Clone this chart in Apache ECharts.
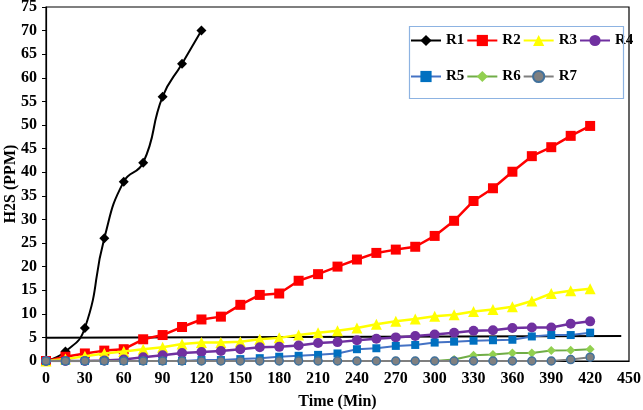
<!DOCTYPE html>
<html>
<head>
<meta charset="utf-8">
<script src="https://cdn.jsdelivr.net/npm/echarts@6/dist/echarts.min.js"></script>
<style>
html,body{margin:0;padding:0;background:#fff;}
#chart{width:643px;height:410px;}
</style>
</head>
<body>
<div id="chart"></div>
<script>
// Time (min) at each sample
var times = [0,15,30,45,60,75,90,105,120,135,150,165,180,195,210,225,240,255,270,285,300,315,330,345,360,375,390,405,420];
var seriesNames = ['R1','R2','R3','R4','R5','R6','R7'];
var R1 = [0,2,7,26,38,42,56,63,70];
var R2 = [0,0.9,1.6,2.2,2.5,4.6,5.5,7.2,8.8,9.4,11.9,14.0,14.3,17.0,18.4,20.0,21.5,22.9,23.6,24.2,26.5,29.7,33.9,36.6,40.1,43.4,45.3,47.7,49.8];
var R3 = [0,0.4,1.0,1.6,2.0,2.5,2.9,3.6,3.9,3.9,4.1,4.6,4.9,5.5,6.0,6.4,7.0,7.8,8.4,8.9,9.5,9.8,10.5,10.9,11.5,12.7,14.3,14.9,15.3];
var R4 = [0,0,0,0.1,0.3,0.8,1.2,1.7,1.9,2.1,2.5,2.9,3.0,3.3,3.8,4.0,4.4,4.7,5.0,5.3,5.6,6.0,6.4,6.5,7.0,7.1,7.1,7.9,8.4];
var R5 = [0,0,0,0,0,0,0,0,0.2,0.2,0.4,0.6,0.9,1.1,1.3,1.6,2.5,2.7,3.2,3.4,3.9,4.1,4.3,4.4,4.5,5.2,5.5,5.5,6.0];
var R6 = [0,0,0,0,0,0,0,0,0,0,0,0,0,0,0,0,0,0,0,0,0,0.3,1.2,1.4,1.7,1.7,2.2,2.3,2.5];
var R7 = [0,0,0,0,0,0,0,0,0,0,0,0,0,0,0,0,0,0,0,0,0,0,0,0,0,0,0,0.3,0.8];
// Reference (limit) line
var limitX = [0, 444];
var limitY = [4.95, 5.3];
// Axis ticks
var xMin = 0, xMax = 450, xStep = 30;
var yMin = 0, yMax = 75, yStep = 5;

function pairs(vals){ return vals.map(function(v,i){ return [times[i], v]; }); }

var FONT = '"Liberation Serif","Times New Roman",serif';
var values = [R1,R2,R3,R4,R5,R6,R7];
var styles = [
  {color:'#000000', line:'#000000', symbol:'diamond', size:10, width:2, smooth:0.5},
  {color:'#ff0000', line:'#ff0000', symbol:'rect', size:10, width:2.5},
  {color:'#ffff00', line:'#ffff00', symbol:'triangle', size:11, width:2.5},
  {color:'#7030a0', line:'#7030a0', symbol:'circle', size:10, width:2.5},
  {color:'#0070c0', line:'#4472c4', symbol:'rect', size:8, width:2},
  {color:'#92d050', line:'#70ad47', symbol:'diamond', size:9, width:2},
  {color:'#808080', line:'#7f7f7f', symbol:'circle', size:8, width:2, border:'#41719c'}
];

var series = seriesNames.map(function(name, k){
  var s = styles[k];
  return {
    name: name, type:'line', data: pairs(values[k]),
    smooth: s.smooth || false,
    symbol: s.symbol, symbolSize: s.size,
    itemStyle: {color: s.color, borderColor: s.border || s.color, borderWidth: s.border ? 1.5 : 0},
    lineStyle: {color: s.line, width: s.width},
    z: 3 + k
  };
});
series.unshift({
  name:'limit', type:'line', silent:true, symbol:'none',
  data: limitX.map(function(x,i){ return [x, limitY[i]]; }),
  lineStyle:{color:'#000', width:2}, z:2
});

var legendText = {fontFamily:FONT, fontWeight:'bold', fontSize:15, color:'#000'};
var chart = echarts.init(document.getElementById('chart'), null, {renderer:'canvas'});
chart.setOption({
  animation:false,
  backgroundColor:'#fff',
  grid:{left:46, right:14, top:7, bottom:49, show:true, borderColor:'#000', borderWidth:1.2, containLabel:false, outerBoundsMode:'none'},
  graphic:[{type:'rect', left:407, top:24, shape:{width:214, height:72}, style:{fill:'none', stroke:'#8db3e2', lineWidth:1.2}, z:10}],
  legend:[
    {data:['R1','R2','R3','R4'], left:410, top:33, itemWidth:30, itemHeight:14, itemGap:2, textStyle:legendText, padding:0},
    {data:['R5','R6','R7'], left:410, top:69, itemWidth:30, itemHeight:14, itemGap:2, textStyle:legendText, padding:0}
  ],
  xAxis:{
    type:'value', min:xMin, max:xMax, interval:xStep,
    name:'Time (Min)', nameLocation:'middle', nameGap:33, nameMoveOverlap:false,
    nameTextStyle:{fontFamily:FONT, fontWeight:'bold', fontSize:16, color:'#000'},
    axisLine:{show:true, lineStyle:{color:'#000', width:1.2}},
    axisTick:{show:false},
    splitLine:{show:false},
    axisLabel:{fontFamily:FONT, fontWeight:'bold', fontSize:16, color:'#000', margin:10}
  },
  yAxis:{
    type:'value', min:yMin, max:yMax, interval:yStep,
    name:'H2S (PPM)', nameLocation:'middle', nameGap:27, nameMoveOverlap:false,
    nameTextStyle:{fontFamily:FONT, fontWeight:'bold', fontSize:16, color:'#000'},
    axisLine:{show:true, lineStyle:{color:'#000', width:1.2}},
    axisTick:{show:true, length:4, lineStyle:{color:'#000'}},
    splitLine:{show:false},
    axisLabel:{fontFamily:FONT, fontWeight:'bold', fontSize:16, color:'#000', margin:9}
  },
  series: series
});
</script>
</body>
</html>
